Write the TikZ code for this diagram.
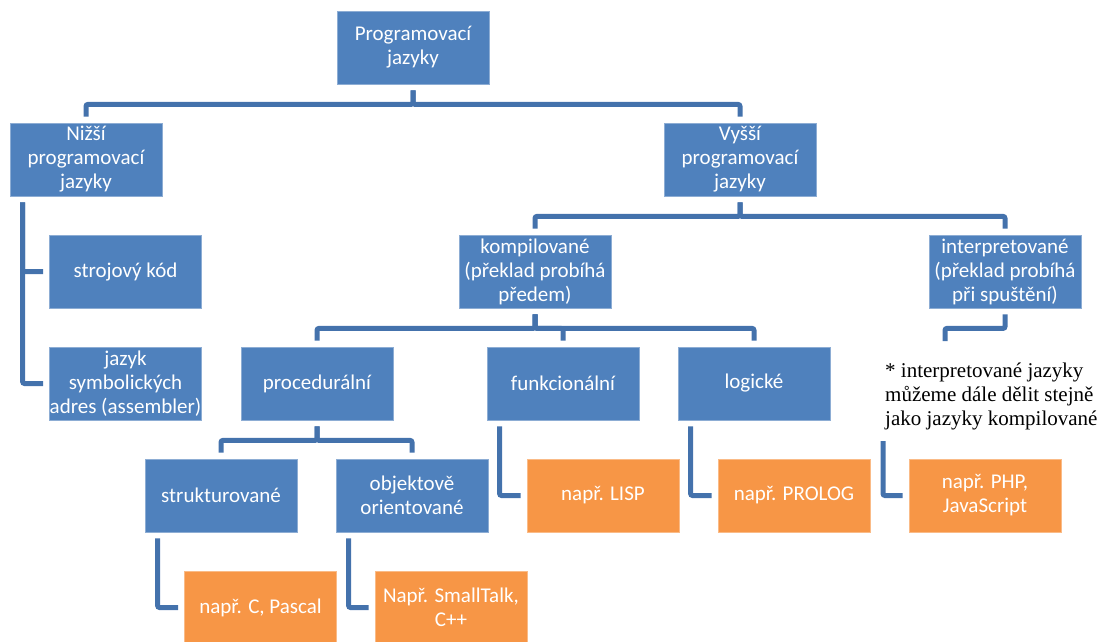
\documentclass[tikz,border=0pt]{standalone}
\usepackage{fontspec}
\newfontfamily\carlito{Carlito}
\newfontfamily\notefont{Liberation Serif}
\definecolor{boxblue}{RGB}{79,129,189}
\definecolor{boxorange}{RGB}{247,150,70}
\definecolor{connblue}{RGB}{68,114,172}
\tikzset{
	box/.style={rectangle, fill=boxblue, draw=white!35!boxblue, line width=0.8pt,
		minimum width=152pt, minimum height=73pt, inner sep=0pt,
		text=white, align=center, font=\carlito\fontsize{21}{24}\selectfont},
	exbox/.style={box, fill=boxorange, draw=white!35!boxorange},
	conn/.style={draw=connblue, line width=5pt, rounded corners=2pt}
}
\begin{document}
\begin{tikzpicture}[x=1pt, y=-1pt]
		\useasboundingbox (0, 0) rectangle (1102, 641);
		
		% Boxes
		\node[box] (root) at (413, 47.5) {Programovací\\jazyky};
		\node[box] (nizsi) at (86, 159.5) {Nižší\\programovací\\jazyky};
		\node[box] (vyssi) at (740, 159.5) {Vyšší\\programovací\\jazyky};
		\node[box] (stroj) at (125.5, 271.5) {strojový kód};
		\node[box] (kompil) at (535, 271.5) {kompilované\\(překlad probíhá\\předem)};
		\node[box] (interp) at (1005, 271.5) {interpretované\\(překlad probíhá\\při spuštění)};
		\node[box] (symb) at (125.5, 383.5) {jazyk\\symbolických\\adres (assembler)};
		\node[box] (proced) at (317, 383.5) {procedurální};
		\node[box] (funkc) at (563, 383.5) {funkcionální};
		\node[box] (logic) at (754, 383.5) {logické};
		\node[box] (strukt) at (221, 495.5) {strukturované};
		\node[box] (objekt) at (412, 495.5) {objektově\\orientované};
		
		% Examples
		\node[exbox] (lisp) at (603, 495.5) {např. LISP};
		\node[exbox] (prolog) at (794, 495.5) {např. PROLOG};
		\node[exbox] (php) at (985, 495.5) {např. PHP,\\JavaScript};
		\node[exbox] (pascal) at (260.5, 607.5) {např. C, Pascal};
		\node[exbox] (smalltalk) at (451, 607.5) {Např. SmallTalk,\\C++};
		
		% Note
		\node[anchor=base west, align=left, inner sep=0pt,
			font=\notefont\fontsize{21}{24}\selectfont] (note) at (885, 425)
			{* interpretované jazyky\\můžeme dále dělit stejně\\jako jazyky kompilované};
		
		% Free ends
		\coordinate (interpend) at (945, 341);
		\coordinate (phpstart) at (883, 441);
		
		% Tree lines
		\draw[conn] ([yshift=-6pt]root.south) -- ([yshift=-20pt]root.south) -| ([yshift=6pt]nizsi.north);
		\draw[conn] ([yshift=-6pt]root.south) -- ([yshift=-20pt]root.south) -| ([yshift=6pt]vyssi.north);
		\draw[conn] ([yshift=-6pt]vyssi.south) -- ([yshift=-20pt]vyssi.south) -| ([yshift=6pt]kompil.north);
		\draw[conn] ([yshift=-6pt]vyssi.south) -- ([yshift=-20pt]vyssi.south) -| ([yshift=6pt]interp.north);
		\draw[conn] ([yshift=-6pt]kompil.south) -- ([yshift=-20pt]kompil.south) -| ([yshift=6pt]proced.north);
		\draw[conn] ([yshift=-6pt]kompil.south) -- ([yshift=-20pt]kompil.south) -| ([yshift=6pt]funkc.north);
		\draw[conn] ([yshift=-6pt]kompil.south) -- ([yshift=-20pt]kompil.south) -| ([yshift=6pt]logic.north);
		\draw[conn] ([yshift=-6pt]proced.south) -- ([yshift=-20pt]proced.south) -| ([yshift=6pt]strukt.north);
		\draw[conn] ([yshift=-6pt]proced.south) -- ([yshift=-20pt]proced.south) -| ([yshift=6pt]objekt.north);
		\draw[conn] ([yshift=-6pt]interp.south) -- ([yshift=-20pt]interp.south) -| (interpend);
		
		% Side lines
		\draw[conn] ([xshift=13pt, yshift=-6pt]nizsi.south west) |- ([xshift=-6pt]stroj.west);
		\draw[conn] ([xshift=13pt, yshift=-6pt]nizsi.south west) |- ([xshift=-6pt]symb.west);
		\draw[conn] ([xshift=13pt, yshift=-6pt]strukt.south west) |- ([xshift=-6pt]pascal.west);
		\draw[conn] ([xshift=13pt, yshift=-6pt]objekt.south west) |- ([xshift=-6pt]smalltalk.west);
		\draw[conn] ([xshift=13pt, yshift=-6pt]funkc.south west) |- ([xshift=-6pt]lisp.west);
		\draw[conn] ([xshift=13pt, yshift=-6pt]logic.south west) |- ([xshift=-6pt]prolog.west);
		\draw[conn] (phpstart) |- ([xshift=-6pt]php.west);
	\end{tikzpicture}
\end{document}
